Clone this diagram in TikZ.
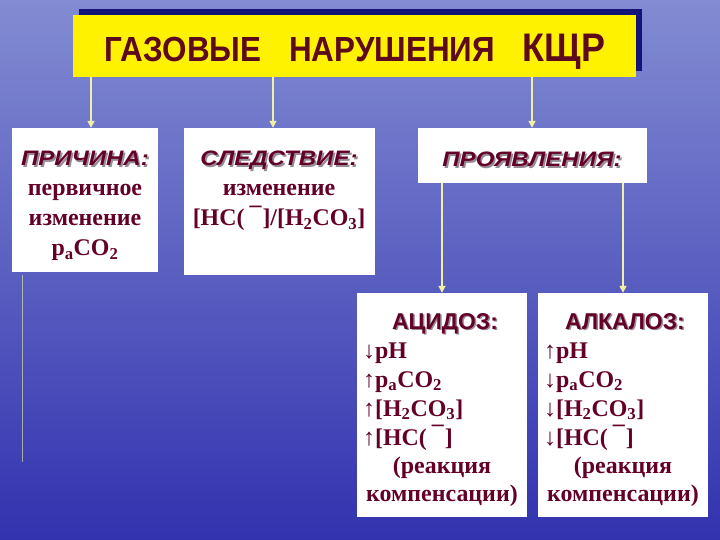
\documentclass[tikz,border=0pt]{standalone}
\usepackage{fontspec}
\setmainfont{Liberation Serif}
\newfontfamily\headfont{Liberation Sans}
\usetikzlibrary{positioning,shadows,arrows.meta}

\definecolor{sky}{RGB}{130,140,210}
\definecolor{sea}{RGB}{88,93,195}
\definecolor{deep}{RGB}{50,50,175}
\definecolor{maroon}{RGB}{100,0,40}
\definecolor{titlered}{RGB}{92,10,28}
\definecolor{navyshade}{RGB}{20,20,120}
\definecolor{shadegray}{RGB}{150,140,150}
\definecolor{pale}{RGB}{240,240,165}

\newcommand{\shadowed}[1]{\makebox[0pt][l]{\hspace{1.5bp}\raisebox{-1.5bp}{\textcolor{shadegray}{#1}}}#1}
\newcommand{\headtxt}[1]{\scalebox{1.15}[1]{\shadowed{#1}}}
\newcommand{\hcocut}{[HC(\kern5bp\raisebox{0.55em}{--}\kern1bp]}

\tikzset{
	box/.style={rectangle, fill=white, inner sep=0},
	head/.style={font=\headfont\bfseries\itshape\fontsize{21}{24}\selectfont, text=maroon, inner sep=0, anchor=base},
	subhead/.style={font=\headfont\bfseries\fontsize{23}{26}\selectfont, text=maroon, inner sep=0, anchor=base},
	body/.style={font=\bfseries\fontsize{24}{29}\selectfont, text=maroon, inner sep=0, anchor=base},
	conn/.style={draw=pale, line width=1.6bp, -{Triangle[length=7bp,width=7bp]}},
	faint/.style={draw=pale, line width=0.8bp, opacity=0.6},
}

\begin{document}
\begin{tikzpicture}[x=1bp,y=-1bp]
\useasboundingbox (0,0) rectangle (720,540);
\shade[top color=sky, middle color=sea, bottom color=deep] (0,0) rectangle (720,540);

% title
\node[rectangle, fill=yellow, minimum width=563bp, minimum height=62bp, inner sep=0,
	copy shadow={shadow xshift=6bp, shadow yshift=6bp, fill=navyshade, draw=none}] (title) at (354.5,46) {};
\node[font=\headfont\bfseries\fontsize{35}{38}\selectfont, text=titlered, inner sep=0, anchor=base] (titletext) at (355,62)
	{\scalebox{0.9}[1]{ГАЗОВЫЕ\hspace{31bp}НАРУШЕНИЯ\hspace{31bp}{\fontsize{40}{42}\selectfont КЩР}}};

% boxes
\node[box, minimum width=146bp, minimum height=144bp] (cause) at (85,200) {};
\node[box, minimum width=191bp, minimum height=147bp] (effect) at (279.5,201.5) {};
\node[box, minimum width=229bp, minimum height=55bp] (signs) at (532.5,155.5) {};
\node[box, minimum width=170bp, minimum height=224bp] (acid) at (442,405) {};
\node[box, minimum width=170bp, minimum height=224bp] (alk) at (623,405) {};

% headers
\node[head] (causehead) at (85,166) {\headtxt{ПРИЧИНА:}};
\node[head] (effecthead) at (279,166) {\headtxt{СЛЕДСТВИЕ:}};
\node[head] (signshead) at (532,167) {\headtxt{ПРОЯВЛЕНИЯ:}};
\node[subhead] (acidhead) at (445,329) {\shadowed{АЦИДОЗ:}};
\node[subhead] (alkhead) at (625,329) {\shadowed{АЛКАЛОЗ:}};

% texts
\foreach \t [count=\i] in {первичное, изменение, p\textsubscript{а}CO\textsubscript{2}}
	\node[body] (c\i) at (85,{196+30*(\i-1)}) {\t};
\foreach \t [count=\i] in {изменение, \hcocut/[H\textsubscript{2}CO\textsubscript{3}]}
	\node[body] (e\i) at (279,{196+30*(\i-1)}) {\t};
\foreach \t [count=\i] in {↓pH, ↑p\textsubscript{а}CO\textsubscript{2}, ↑[H\textsubscript{2}CO\textsubscript{3}], ↑\hcocut}
	\node[body, anchor=base west] (a\i) at (363,{358+29*(\i-1)}) {\t};
\foreach \t [count=\i] in {↑pH, ↓p\textsubscript{а}CO\textsubscript{2}, ↓[H\textsubscript{2}CO\textsubscript{3}], ↓\hcocut}
	\node[body, anchor=base west] (k\i) at (544,{358+29*(\i-1)}) {\t};
\node[body] (areac) at (442,473) {(реакция};
\node[body] (acomp) at (442,501) {компенсации)};
\node[body] (kreac) at (623,473) {(реакция};
\node[body] (kcomp) at (623,501) {компенсации)};

% connectors
\foreach \x/\n in {91/cause,273/effect,532/signs}
	\draw[conn] (title.south -| \x,0) -- (\n.north -| \x,0);
\foreach \n in {acid,alk}
	\draw[conn] (signs.south -| \n.north) -- (\n.north);
\coordinate (f1) at (22,275);
\coordinate (f2) at (22,462);
\draw[faint] (f1) -- (f2);
\end{tikzpicture}
\end{document}
